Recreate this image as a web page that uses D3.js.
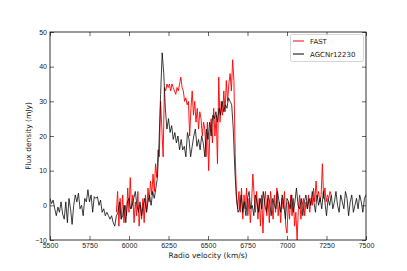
<!DOCTYPE html>
<html><head><meta charset="utf-8">
<script src="https://cdn.jsdelivr.net/npm/d3@7"></script>
<style>body{margin:0;background:#fff}svg{display:block}</style>
</head><body>
<script>
// AGCNr12230 (Arecibo): 10 km/s channels from 5500 to 7500
const agcStart = 5500, agcStep = 10;
const agcFlux = [
 2,0.5,1.5,-1,-3,-0.5,-2,1,-2.5,-4, 1,-5,2,-1,-5.5,0,3,1,3.5,-1,
 0,-3,2,1,4.5,1,3,-2,2.5,2, 2.5,0,1.5,-2,-1,-3,-2,-3,-4,-3,
 -5,-6,-3,-2,1,-4,-3,0,-5,1, 2,-1,0,2,4,0,-2,1,-3,0,
 2,-2,1,3,0,4,2,5,8,18, 32,44,38,28,22,25,21,23,19,21,
 18,20,16,19,16,17,14,21,19,14, 17,20,22,17,19,16,20,18,14,22,
 19,24,20,26,25,27,24,28,26,30, 27,29,28,31,30,29,22,10,2,-2,
 -1,3,-2,1,-3,2,4,-1,0,-3, 3,1,-2,2,-1,4,0,-2,3,1,
 -3,2,0,-1,4,1,-2,3,0,-4, 2,1,-1,3,-2,1,5,0,-1,2,
 -3,1,3,-1,2,0,4,1,-2,3, 0,2,-1,4,1,-3,2,0,3,-1,
 1,4,0,-2,3,1,-1,4,2,-3, 1,3,-2,0,2,-1,3,1,-2,2,
 3
];
// FAST: 8 km/s channels from 5920 to 7280
const fastStart = 5920, fastStep = 8;
const fastFlux = [
 -2,4,-6,2,-4,3,-5,0,-3,5, -2,8,-1,3,-5,1,-3,4,-6,0,
 -4,2,-5,3,-2,5,1,7,3,9, 4,12,8,16,14,30,22,14,34,33,
 35,34,35,33,35,34,33,32,34,33, 35,37,34,33,30,31,29,30,20,28,
 33,26,30,24,28,22,27,25,20,24, 22,14,24,10,21,25,18,28,20,26,
 12,37,24,30,26,33,27,36,30,35, 38,33,42,36,15,3,-1,4,-2,5,
 -4,3,-1,5,-3,2,-5,1,9,3, -2,4,-4,2,-6,3,-8,1,4,-3,
 2,-5,4,0,-4,3,-2,5,-3,1, -5,2,-1,4,-6,-8,1,-4,3,-3,
 2,-6,-2,-10,-1,3,-4,0,2,-3, 1,-1,3,-2,2,0,5,1,7,2,
 4,1,3,12,2,5,1,3,2,4, 3
];
const xTicks = [5500,5750,6000,6250,6500,6750,7000,7250,7500];
const yTicks = [-10,0,10,20,30,40,50];
const seriesNames = ["FAST","AGCNr12230"];
const seriesColors = ["#ff0000","#000000"];

const W = 407, H = 271;
const m = {l:50, r:41, t:32, b:31};
const svg = d3.select("body").append("svg").attr("width",W).attr("height",H)
  .style("font-family","'DejaVu Sans', sans-serif");
const x = d3.scaleLinear().domain([5500,7500]).range([m.l, W-m.r]);
const y = d3.scaleLinear().domain([-10,50]).range([H-m.b, m.t]);

svg.append("defs").append("clipPath").attr("id","clip").append("rect")
  .attr("x",m.l).attr("y",m.t).attr("width",W-m.l-m.r).attr("height",H-m.t-m.b);

const agc = agcFlux.map((f,i)=>[agcStart+i*agcStep,f]);
const fast = fastFlux.map((f,i)=>[fastStart+i*fastStep,f]);
const line = d3.line().x(d=>x(d[0])).y(d=>y(d[1]));
const g = svg.append("g").attr("clip-path","url(#clip)");
g.append("path").datum(fast).attr("d",line).attr("fill","none")
  .attr("stroke",seriesColors[0]).attr("stroke-width",1).attr("stroke-opacity",0.9);
g.append("path").datum(agc).attr("d",line).attr("fill","none")
  .attr("stroke",seriesColors[1]).attr("stroke-width",0.9).attr("stroke-opacity",0.85);

const fmt = d => d<0 ? "\u2212"+Math.abs(d) : String(d);
const ax = (gen, tr) => {
  const a = svg.append("g").attr("transform",tr).call(gen);
  a.select(".domain").remove();
  a.selectAll("line").attr("stroke","#000").attr("stroke-width",0.6);
  a.selectAll("text").attr("font-size","7px").attr("fill","#222");
  return a;
};
ax(d3.axisBottom(x).tickValues(xTicks).tickSize(-4).tickPadding(3).tickFormat(fmt), `translate(0,${H-m.b})`);
ax(d3.axisTop(x).tickValues(xTicks).tickSize(-4).tickFormat(""), `translate(0,${m.t})`);
ax(d3.axisLeft(y).tickValues(yTicks).tickSize(-4).tickPadding(3).tickFormat(fmt), `translate(${m.l},0)`);
ax(d3.axisRight(y).tickValues(yTicks).tickSize(-4).tickFormat(""), `translate(${W-m.r},0)`);

svg.append("rect").attr("x",m.l).attr("y",m.t).attr("width",W-m.l-m.r).attr("height",H-m.t-m.b)
  .attr("fill","none").attr("stroke","#000").attr("stroke-width",0.8);

svg.append("text").attr("x",(m.l+W-m.r)/2).attr("y",258).attr("text-anchor","middle")
  .attr("font-size","7.5px").attr("fill","#222").text("Radio velocity (km/s)");
svg.append("text").attr("transform",`translate(31,${(m.t+H-m.b)/2}) rotate(-90)`)
  .attr("text-anchor","middle").attr("font-size","7.5px").attr("fill","#222").text("Flux density (mJy)");

// legend
const lg = svg.append("g");
lg.append("rect").attr("x",290.5).attr("y",34.5).attr("width",73).attr("height",27).attr("rx",2)
  .attr("fill","#fff").attr("fill-opacity",0.8).attr("stroke","#ccc").attr("stroke-width",0.8);
seriesNames.forEach((n,i)=>{
  const yy = 41 + i*13;
  lg.append("line").attr("x1",293).attr("x2",304).attr("y1",yy).attr("y2",yy)
    .attr("stroke",seriesColors[i]).attr("stroke-width",1);
  lg.append("text").attr("x",310).attr("y",yy+2.5).attr("font-size","7px").attr("fill","#222").text(n);
});
</script>
</body></html>
